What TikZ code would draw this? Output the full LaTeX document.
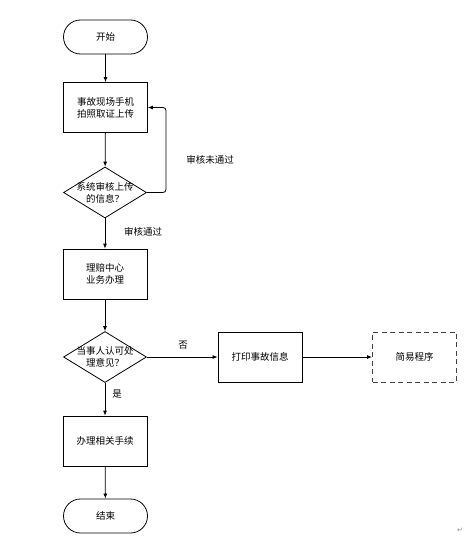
\documentclass[tikz,border=0pt]{standalone}
\usepackage{fontspec}
\setmainfont{Noto Sans CJK SC}
\newfontfamily\symfont{DejaVu Sans}
\usetikzlibrary{shapes.geometric,arrows.meta}
\tikzset{
  base/.style={draw=black, line width=0.8pt, font=\fontsize{9.5pt}{12pt}\selectfont, align=center, inner sep=0pt},
  term/.style={base, rectangle, rounded corners=17pt, minimum width=84pt, minimum height=34pt},
  proc/.style={base, rectangle, minimum width=84pt, minimum height=50pt},
  dproc/.style={proc, draw=black!75, dash pattern=on 5pt off 3.5pt, line width=1pt},
  dec/.style={base, diamond, minimum width=83pt, minimum height=51pt},
  dtext/.style={font=\fontsize{9.5pt}{12pt}\selectfont, align=center, inner sep=0pt},
  arr/.style={draw=black, line width=0.8pt, -{Latex[length=5pt,width=4pt]}},
  lbl/.style={font=\fontsize{9.5pt}{12pt}\selectfont, inner sep=0pt}
}
\begin{document}
\begin{tikzpicture}[x=1pt,y=-1pt]
\useasboundingbox (0,0) rectangle (470,546);
\node[term] (start) at (105.5,37) {开始};
\node[proc] (b1) at (105.5,107.5) {事故现场手机\\拍照取证上传};
\node[dec] (d1) at (105,192.5) {};
\node[dtext] (d1t) at (d1) {系统审核上传\\的信息？};
\node[proc] (b2) at (105,274) {理赔中心\\业务办理};
\node[dec] (d2) at (105,357) {};
\node[dtext] (d2t) at (d2) {当事人认可处\\理意见？};
\node[proc] (b3) at (105,441) {办理相关手续};
\node[term] (end) at (105.5,516) {结束};
\node[proc] (print) at (260,357) {打印事故信息};
\node[dproc] (easy) at (414.5,357) {简易程序};
\coordinate (loop) at (166,192.5);
\node[lbl] (l1) at (210,160) {审核未通过};
\node[lbl] (l2) at (143,232) {审核通过};
\node[lbl] (l3) at (183,345) {否};
\node[lbl] (l4) at (117,394) {是};
\node[font=\symfont\fontsize{7pt}{8pt}\selectfont, text=black!45, inner sep=0pt] (pm) at (460,530) {↵};
\draw[arr] (start) -- (b1);
\draw[arr] (b1) -- (d1);
\draw[arr] (d1) -- (b2);
\draw[arr, rounded corners=3pt] (d1.east) -- (loop) |- (b1.east);
\draw[arr] (b2) -- (d2);
\draw[arr] (d2) -- (b3);
\draw[arr] (b3) -- (end);
\draw[arr] (d2.east) -- (print.west);
\draw[arr] (print) -- (easy);
\end{tikzpicture}
\end{document}
